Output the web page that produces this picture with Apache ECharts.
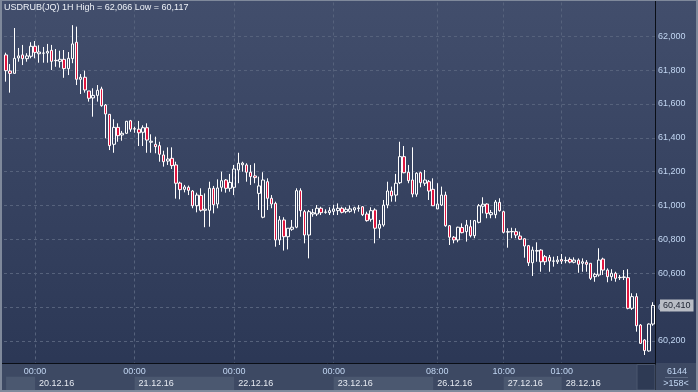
<!DOCTYPE html>
<html><head><meta charset="utf-8">
<script src="https://cdn.jsdelivr.net/npm/echarts@6/dist/echarts.min.js"></script>
<style>html,body{margin:0;padding:0;background:#2c3855}#c{width:698px;height:392px}</style>
</head><body><div id="c"></div>
<script>
// ---- data ----
const daySegments = [['19.12.16',17,23],['20.12.16',0,23],['21.12.16',0,23],['22.12.16',0,23],['23.12.16',0,23],['26.12.16',7,23],['27.12.16',10,23],['28.12.16',1,23]];
const timeTickIdx = [7,31,55,79,104,120,134];
const dayStartIdx = [0,7,31,55,79,103,120,134];
const headerHigh = 62066, headerLow = 60117, lastPrice = 60410;
const yTicks = {min:60000, max:62200, step:200};

const openV = [61890,61795,61781,61872,61890,61868,61882,61941,61897,61900,
61901,61917,61856,61852,61864,61809,61868,61965,61746,61758,
61677,61636,61651,61689,61594,61539,61362,61462,61417,61427,
61501,61452,61451,61433,61460,61374,61362,61354,61299,61263,
61279,61240,61133,61096,61108,61086,60999,61060,60972,60972,
61102,61009,61108,61151,61102,61108,61210,61241,61240,61197,
61175,61072,60931,61141,61043,61013,60797,60915,60816,60860,
60872,61088,60964,60826,60950,60950,60984,60960,60958,60966,
60970,60984,60964,60966,60974,60982,60993,60950,60919,60974,
60866,60885,61003,61086,61062,61135,61289,61197,61151,61067,
61194,61132,61141,61096,60980,61003,61062,60881,60813,60797,
60870,60846,60875,60822,60901,60996,61009,60946,60946,61019,
60964,60843,60845,60846,60820,60804,60763,60662,60731,60737,
60698,60694,60671,60668,60682,60674,60682,60665,60678,60659,
60665,60659,60580,60590,60684,60619,60580,60600,60574,60576,
60574,60393,60462,60294,60206,60141,60300];
const closeV = [61797,61781,61870,61884,61868,61884,61941,61905,61907,61901,
61911,61852,61858,61864,61809,61870,61955,61746,61758,61683,
61634,61651,61681,61590,61541,61354,61462,61413,61427,61498,
61451,61454,61430,61460,61387,61380,61348,61303,61259,61275,
61236,61132,61094,61110,61090,60999,61062,60972,60979,61102,
61005,61104,61147,61102,61137,61216,61250,61251,61197,61171,
61165,61116,61151,61043,61009,60797,60915,60816,60866,60872,
61088,60970,60826,60964,60958,60984,60958,60962,60970,60980,
60984,60960,60978,60980,60987,60986,60946,60911,60970,60866,
60889,61003,61086,61058,61132,61289,61194,61147,61068,61191,
61135,61151,61086,60999,61009,61062,60881,60813,60797,60872,
60840,60885,60822,60911,60999,61008,60954,60958,61021,60970,
60842,60846,60847,60826,60801,60761,60662,60737,60734,60668,
60668,60672,60673,60678,60672,60676,60666,60678,60653,60668,
60653,60570,60594,60678,60619,60580,60600,60570,60576,60578,
60393,60462,60290,60186,60143,60300,60410];
const lowV = [61732,61667,61781,61850,61830,61850,61870,61870,61844,61844,
61844,61801,61820,61815,61755,61771,61841,61712,61659,61667,
61614,61525,61614,61584,61397,61328,61312,61377,61383,61423,
61436,61430,61352,61352,61312,61312,61309,61259,61230,61240,
61216,61041,61037,61078,61062,60984,60960,60964,60872,60875,
60954,60984,61082,61076,61082,61062,61132,61200,61141,61122,
61132,60974,60925,60974,60984,60757,60767,60734,60741,60851,
60866,60934,60777,60688,60934,60938,60944,60952,60944,60944,
60944,60954,60954,60958,60954,60964,60938,60905,60905,60777,
60807,60875,60984,61023,61023,61127,61191,61132,61049,61052,
61108,61116,61033,60997,60980,60997,60875,60767,60777,60783,
60836,60787,60812,60807,60895,60954,60925,60925,60925,60964,
60836,60751,60807,60807,60797,60692,60643,60584,60668,60609,
60649,60609,60639,60655,60655,60659,60659,60659,60603,60609,
60609,60560,60550,60580,60590,60547,60556,60550,60560,60560,
60387,60383,60255,60182,60117,60137,60290];
const highV = [61903,61836,62049,61931,61949,61900,61965,61972,61947,61937,
61955,61949,61925,61915,61919,61907,62066,62057,61777,61797,
61677,61693,61712,61702,61600,61541,61510,61486,61441,61500,
61506,61466,61500,61474,61486,61421,61407,61377,61324,61344,
61344,61259,61141,61122,61118,61092,61076,61102,61072,61141,
61116,61155,61200,61157,61187,61240,61312,61259,61250,61240,
61250,61171,61197,61161,61062,61023,60938,60931,60866,60915,
61102,61102,60974,60974,60980,61003,60993,60978,60990,61005,
61013,60993,60990,61001,60993,61003,60997,60964,60990,60984,
60915,61033,61141,61112,61187,61377,61352,61240,61344,61197,
61200,61210,61151,61161,61132,61112,61082,60885,60820,60875,
60895,60915,60915,60915,61009,61049,61013,60974,61033,61043,
60970,60866,60869,60866,60846,60807,60767,60757,60783,60742,
60708,60708,60698,60702,60714,60698,60694,60694,60688,60688,
60678,60659,60603,60748,60692,60629,60624,60609,60590,60619,
60624,60482,60482,60300,60210,60304,60429];

// ---- build ----
const fmt = v => String(v).replace(/\B(?=(\d{3})+(?!\d))/g, ',');
const categories = [];
daySegments.forEach(([d, h0, h1]) => { for (let h = h0; h <= h1; h++) categories.push(d + ' ' + String(h).padStart(2, '0') + ':00'); });
const candles = openV.map((o, i) => [o, closeV[i], lowV[i], highV[i]]);
const isTimeTick = i => timeTickIdx.includes(i);
const isDayStart = i => dayStartIdx.includes(i);
const FONT = '"Liberation Sans", Arial, sans-serif';
const GRID_DASH = '#56627c';
const LABEL_BLUE = '#c2d6f2';
const TAG_GRAY = '#b9bdc5';

const chart = echarts.init(document.getElementById('c'), null, {renderer: 'canvas'});
chart.setOption({
  animation: false,
  title: {
    text: `USDRUB(JQ) 1H High = ${fmt(headerHigh)} Low = ${fmt(headerLow)}`,
    left: 4, top: 3, padding: 0,
    textStyle: {fontSize: 9, fontWeight: 'normal', color: '#eef2f8', fontFamily: FONT}
  },
  grid: [
    {left: 4, right: 43, top: 2.45, bottom: 17.17},
    {left: 4, right: 43, top: 376.7, bottom: 2}
  ],
  xAxis: [
    {type: 'category', gridIndex: 0, data: categories, boundaryGap: true,
     axisLine: {show: false}, axisTick: {show: false}, axisLabel: {show: false},
     splitLine: {show: true, interval: (i) => isTimeTick(i), alignWithLabel: true,
                 lineStyle: {color: GRID_DASH, type: [3, 3], width: 1}}},
    {type: 'category', gridIndex: 1, position: 'top', data: categories, z: 55,
     axisLine: {show: false}, axisTick: {show: false},
     axisLabel: {interval: (i) => isTimeTick(i), formatter: v => v.split(' ')[1], margin: 1,
                 fontSize: 9, color: LABEL_BLUE, fontFamily: FONT},
     splitLine: {show: false},
     splitArea: {show: true, interval: (i) => isDayStart(i), alignWithLabel: true,
                 areaStyle: {color: ['#4b5870', 'rgba(0,0,0,0)']}}},
    {type: 'category', gridIndex: 1, position: 'bottom', data: categories, z: 60,
     axisLine: {show: false}, axisTick: {show: false},
     axisLabel: {inside: true, interval: (i) => isDayStart(i) && i > 0, formatter: v => v.split(' ')[0],
                 align: 'left', margin: 2, padding: [0, 0, 0, 4],
                 fontSize: 9, color: '#e6eaf1', fontFamily: FONT},
     splitLine: {show: false}}
  ],
  yAxis: [
    {type: 'value', gridIndex: 0, position: 'right', min: yTicks.min, max: yTicks.max, interval: yTicks.step,
     axisLine: {show: false}, axisTick: {show: false},
     axisLabel: {margin: 3, fontSize: 9, color: LABEL_BLUE, fontFamily: FONT, formatter: fmt,
                 showMinLabel: false, showMaxLabel: false},
     splitLine: {show: true, showMinLine: false, showMaxLine: false,
                 lineStyle: {color: GRID_DASH, type: [3, 3], width: 1}}},
    {type: 'value', gridIndex: 1, show: false}
  ],
  series: [{
    type: 'candlestick', xAxisIndex: 0, yAxisIndex: 0, data: candles, barWidth: 3,
    itemStyle: {color: 'rgba(0,0,0,0)', color0: '#e0163f', borderColor: '#ffffff',
                borderColor0: '#ffffff', borderColorDoji: '#ffffff', borderWidth: 1},
    markLine: {
      silent: true, animation: false,
      symbol: ['none', 'path://M0,0L10,0L5,10Z'], symbolSize: [7, 3], symbolOffset: [0, -3.5],
      lineStyle: {color: 'rgba(0,0,0,0)', width: 1},
      itemStyle: {color: TAG_GRAY},
      label: {show: true, position: 'end', distance: 5, formatter: () => fmt(lastPrice),
              backgroundColor: TAG_GRAY, color: '#1c2230', padding: [1, 3, 0, 3],
              fontSize: 9, fontFamily: FONT, lineHeight: 11, opacity: 1},
      data: [{yAxis: lastPrice}]
    }
  }],
  graphic: [
    {type: 'rect', z: -10, silent: true, shape: {x: 0, y: 0, width: 698, height: 392},
     style: {fill: new echarts.graphic.LinearGradient(0, 0, 0, 1, [
       {offset: 0, color: '#424e6c'}, {offset: 1, color: '#2a3654'}])}},
    {type: 'rect', z: 50, silent: true, shape: {x: 0, y: 363, width: 698, height: 29},
     style: {fill: '#3d4963'}},
    {type: 'line', z: 51, silent: true, shape: {x1: 0, y1: 363.5, x2: 655, y2: 363.5},
     style: {stroke: '#0a0e16', lineWidth: 1}},
    {type: 'line', z: 51, silent: true, shape: {x1: 655.5, y1: 0, x2: 655.5, y2: 392},
     style: {stroke: '#0a0e16', lineWidth: 1}},
    {type: 'rect', z: 52, silent: true, shape: {x: 637, y: 364.5, width: 18, height: 25.5},
     style: {fill: '#2e3a54', stroke: '#4a566e', lineWidth: 1}},
    {type: 'text', z: 52, silent: true, x: 677, y: 372,
     style: {text: '6144', fill: LABEL_BLUE, font: '9px ' + FONT, align: 'center', verticalAlign: 'middle'}},
    {type: 'line', z: 52, silent: true, shape: {x1: 665, y1: 377.5, x2: 688, y2: 377.5},
     style: {stroke: '#5d6a82', lineWidth: 1}},
    {type: 'text', z: 52, silent: true, x: 676, y: 384,
     style: {text: '>158<', fill: LABEL_BLUE, font: '9px ' + FONT, align: 'center', verticalAlign: 'middle'}},
    {type: 'rect', z: 100, silent: true, shape: {x: 1, y: 0, width: 696, height: 391},
     style: {fill: 'none', stroke: '#7f899b', lineWidth: 2}}
  ]
});
</script></body></html>
